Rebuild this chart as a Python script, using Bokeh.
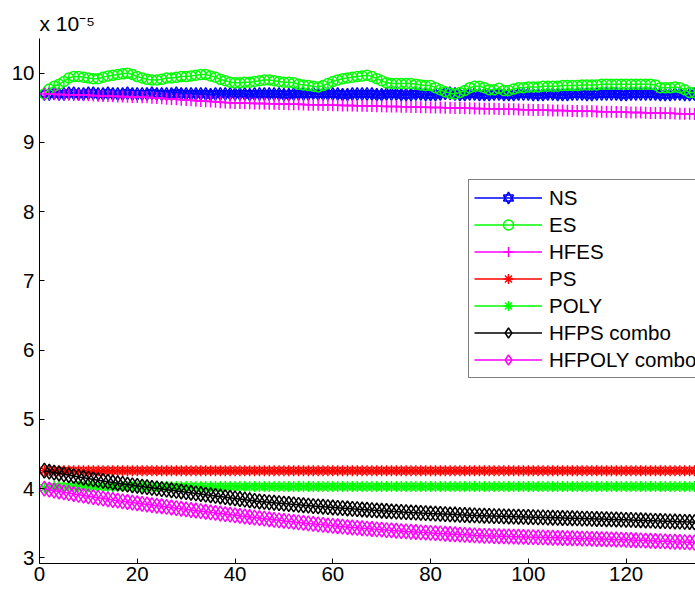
from bokeh.plotting import figure
from bokeh.models import Legend, LegendItem, FixedTicker, Range1d, Title
from bokeh.embed import file_html
from bokeh.resources import INLINE

# ---------------- data (values in units of 1e-5) ----------------
x = list(range(1, 136))

ns = [9.70, 9.70, 9.71, 9.70, 9.70, 9.71, 9.71, 9.70, 9.70, 9.71,
      9.71, 9.70, 9.70, 9.71, 9.70, 9.70, 9.70, 9.71, 9.70, 9.70,
      9.70, 9.70, 9.71, 9.70, 9.70, 9.70, 9.70, 9.71, 9.70, 9.70,
      9.70, 9.70, 9.70, 9.70, 9.69, 9.70, 9.70, 9.70, 9.70, 9.70,
      9.70, 9.70, 9.69, 9.70, 9.70, 9.70, 9.70, 9.70, 9.70, 9.69,
      9.69, 9.70, 9.70, 9.70, 9.70, 9.71, 9.70, 9.70, 9.70, 9.70,
      9.70, 9.69, 9.69, 9.70, 9.70, 9.70, 9.70, 9.70, 9.69, 9.69,
      9.70, 9.70, 9.70, 9.69, 9.69, 9.69, 9.70, 9.70, 9.69, 9.69,
      9.69, 9.70, 9.71, 9.71, 9.70, 9.69, 9.69, 9.70, 9.70, 9.69,
      9.69, 9.69, 9.70, 9.70, 9.69, 9.69, 9.69, 9.70, 9.70, 9.70,
      9.69, 9.69, 9.69, 9.70, 9.70, 9.69, 9.69, 9.69, 9.70, 9.70,
      9.70, 9.69, 9.69, 9.70, 9.70, 9.70, 9.70, 9.70, 9.69, 9.69,
      9.70, 9.70, 9.70, 9.70, 9.70, 9.70, 9.69, 9.69, 9.69, 9.70,
      9.70, 9.69, 9.69, 9.70, 9.70]

es = [9.70, 9.77, 9.81, 9.84, 9.88, 9.93, 9.95, 9.95, 9.94, 9.93,
      9.92, 9.92, 9.94, 9.96, 9.97, 9.98, 9.99, 10.00, 9.98, 9.95,
      9.93, 9.91, 9.90, 9.90, 9.91, 9.93, 9.93, 9.94, 9.95, 9.95,
      9.96, 9.97, 9.98, 9.98, 9.96, 9.94, 9.91, 9.89, 9.87, 9.86,
      9.86, 9.87, 9.87, 9.88, 9.89, 9.90, 9.90, 9.89, 9.88, 9.87,
      9.87, 9.86, 9.84, 9.83, 9.82, 9.81, 9.80, 9.82, 9.85, 9.88,
      9.90, 9.92, 9.93, 9.94, 9.95, 9.96, 9.97, 9.95, 9.92, 9.89,
      9.86, 9.85, 9.85, 9.85, 9.85, 9.85, 9.84, 9.83, 9.82, 9.82,
      9.79, 9.76, 9.73, 9.71, 9.70, 9.72, 9.75, 9.79, 9.81, 9.81,
      9.79, 9.76, 9.76, 9.78, 9.75, 9.75, 9.77, 9.79, 9.79, 9.80,
      9.80, 9.80, 9.81, 9.81, 9.81, 9.81, 9.82, 9.82, 9.82, 9.82,
      9.83, 9.83, 9.83, 9.83, 9.84, 9.84, 9.84, 9.84, 9.84, 9.84,
      9.84, 9.84, 9.84, 9.84, 9.84, 9.83, 9.79, 9.79, 9.79, 9.80,
      9.79, 9.76, 9.72, 9.72, 9.73]

hfes = [9.700, 9.698, 9.695, 9.693, 9.690, 9.688, 9.686, 9.683, 9.681, 9.679,
        9.676, 9.674, 9.671, 9.669, 9.667, 9.664, 9.662, 9.659, 9.657, 9.655,
        9.652, 9.650, 9.645, 9.641, 9.636, 9.631, 9.627, 9.622, 9.617, 9.613,
        9.608, 9.603, 9.599, 9.594, 9.589, 9.585, 9.580, 9.575, 9.571, 9.569,
        9.568, 9.566, 9.565, 9.563, 9.561, 9.560, 9.558, 9.557, 9.555, 9.553,
        9.552, 9.550, 9.549, 9.547, 9.545, 9.544, 9.542, 9.541, 9.539, 9.537,
        9.536, 9.534, 9.533, 9.531, 9.529, 9.528, 9.526, 9.525, 9.523, 9.521,
        9.520, 9.518, 9.517, 9.515, 9.513, 9.512, 9.510, 9.509, 9.507, 9.505,
        9.504, 9.502, 9.501, 9.499, 9.497, 9.496, 9.494, 9.493, 9.491, 9.489,
        9.487, 9.486, 9.484, 9.482, 9.480, 9.478, 9.477, 9.475, 9.473, 9.471,
        9.469, 9.468, 9.466, 9.464, 9.462, 9.460, 9.459, 9.457, 9.455, 9.453,
        9.451, 9.450, 9.448, 9.446, 9.444, 9.442, 9.441, 9.439, 9.437, 9.435,
        9.433, 9.432, 9.430, 9.428, 9.426, 9.424, 9.423, 9.421, 9.419, 9.417,
        9.415, 9.414, 9.412, 9.410, 9.408]

ps = [4.26, 4.26, 4.26, 4.26, 4.26, 4.26, 4.26, 4.26, 4.26, 4.26, 4.26, 4.26, 4.26, 4.26, 4.26,
      4.26, 4.26, 4.26, 4.26, 4.26, 4.26, 4.26, 4.26, 4.26, 4.26, 4.26, 4.26, 4.26, 4.26, 4.26,
      4.26, 4.26, 4.26, 4.26, 4.26, 4.26, 4.26, 4.26, 4.26, 4.26, 4.26, 4.26, 4.26, 4.26, 4.26,
      4.26, 4.26, 4.26, 4.26, 4.26, 4.26, 4.26, 4.26, 4.26, 4.26, 4.26, 4.26, 4.26, 4.26, 4.26,
      4.26, 4.26, 4.26, 4.26, 4.26, 4.26, 4.26, 4.26, 4.26, 4.26, 4.26, 4.26, 4.26, 4.26, 4.26,
      4.26, 4.26, 4.26, 4.26, 4.26, 4.26, 4.26, 4.26, 4.26, 4.26, 4.26, 4.26, 4.26, 4.26, 4.26,
      4.26, 4.26, 4.26, 4.26, 4.26, 4.26, 4.26, 4.26, 4.26, 4.26, 4.26, 4.26, 4.26, 4.26, 4.26,
      4.26, 4.26, 4.26, 4.26, 4.26, 4.26, 4.26, 4.26, 4.26, 4.26, 4.26, 4.26, 4.26, 4.26, 4.26,
      4.26, 4.26, 4.26, 4.26, 4.26, 4.26, 4.26, 4.26, 4.26, 4.26, 4.26, 4.26, 4.26, 4.26, 4.26]

poly = [4.01, 4.02, 4.03, 4.03, 4.03, 4.03, 4.03, 4.03, 4.03, 4.03, 4.03, 4.03, 4.03, 4.03, 4.03,
        4.03, 4.03, 4.03, 4.03, 4.03, 4.03, 4.03, 4.03, 4.03, 4.03, 4.03, 4.03, 4.03, 4.03, 4.03,
        4.03, 4.03, 4.03, 4.03, 4.03, 4.03, 4.03, 4.03, 4.03, 4.03, 4.03, 4.03, 4.03, 4.03, 4.03,
        4.03, 4.03, 4.03, 4.03, 4.03, 4.03, 4.03, 4.03, 4.03, 4.03, 4.03, 4.03, 4.03, 4.03, 4.03,
        4.03, 4.03, 4.03, 4.03, 4.03, 4.03, 4.03, 4.03, 4.03, 4.03, 4.03, 4.03, 4.03, 4.03, 4.03,
        4.03, 4.03, 4.03, 4.03, 4.03, 4.03, 4.03, 4.03, 4.03, 4.03, 4.03, 4.03, 4.03, 4.03, 4.03,
        4.03, 4.03, 4.03, 4.03, 4.03, 4.03, 4.03, 4.03, 4.03, 4.03, 4.03, 4.03, 4.03, 4.03, 4.03,
        4.03, 4.03, 4.03, 4.03, 4.03, 4.03, 4.03, 4.03, 4.03, 4.03, 4.03, 4.03, 4.03, 4.03, 4.03,
        4.03, 4.03, 4.03, 4.03, 4.03, 4.03, 4.03, 4.03, 4.03, 4.03, 4.03, 4.03, 4.03, 4.03, 4.03]

hfps = [4.260, 4.246, 4.233, 4.220, 4.207, 4.194, 4.182, 4.170, 4.158, 4.146,
        4.134, 4.123, 4.112, 4.101, 4.090, 4.079, 4.069, 4.059, 4.049, 4.040,
        4.031, 4.022, 4.013, 4.004, 3.995, 3.986, 3.977, 3.968, 3.959, 3.950,
        3.941, 3.932, 3.923, 3.914, 3.905, 3.896, 3.887, 3.878, 3.869, 3.860,
        3.851, 3.842, 3.833, 3.824, 3.815, 3.809, 3.803, 3.797, 3.791, 3.785,
        3.779, 3.773, 3.767, 3.761, 3.755, 3.749, 3.744, 3.739, 3.734, 3.729,
        3.724, 3.719, 3.714, 3.709, 3.705, 3.700, 3.696, 3.691, 3.687, 3.682,
        3.678, 3.673, 3.669, 3.665, 3.661, 3.657, 3.654, 3.650, 3.647, 3.643,
        3.640, 3.636, 3.633, 3.630, 3.627, 3.623, 3.620, 3.617, 3.614, 3.611,
        3.609, 3.607, 3.605, 3.603, 3.601, 3.599, 3.597, 3.595, 3.593, 3.591,
        3.589, 3.587, 3.585, 3.583, 3.581, 3.579, 3.577, 3.575, 3.573, 3.571,
        3.569, 3.567, 3.565, 3.563, 3.561, 3.559, 3.557, 3.555, 3.553, 3.551,
        3.549, 3.546, 3.544, 3.541, 3.539, 3.536, 3.534, 3.531, 3.529, 3.526,
        3.524, 3.521, 3.519, 3.516, 3.514]

hfpoly = [4.000, 3.986, 3.973, 3.960, 3.948, 3.936, 3.924, 3.912, 3.901, 3.890,
          3.879, 3.868, 3.857, 3.847, 3.837, 3.827, 3.817, 3.808, 3.799, 3.790,
          3.781, 3.772, 3.763, 3.754, 3.746, 3.737, 3.728, 3.719, 3.711, 3.702,
          3.693, 3.685, 3.676, 3.667, 3.659, 3.650, 3.642, 3.633, 3.625, 3.616,
          3.608, 3.599, 3.591, 3.583, 3.575, 3.567, 3.559, 3.551, 3.543, 3.536,
          3.528, 3.521, 3.513, 3.506, 3.499, 3.492, 3.485, 3.478, 3.471, 3.464,
          3.458, 3.452, 3.446, 3.440, 3.435, 3.429, 3.424, 3.418, 3.413, 3.408,
          3.403, 3.398, 3.393, 3.388, 3.383, 3.379, 3.375, 3.370, 3.366, 3.362,
          3.358, 3.354, 3.350, 3.346, 3.342, 3.338, 3.334, 3.330, 3.326, 3.322,
          3.320, 3.318, 3.316, 3.314, 3.312, 3.310, 3.308, 3.306, 3.304, 3.302,
          3.300, 3.298, 3.296, 3.294, 3.292, 3.290, 3.288, 3.286, 3.284, 3.282,
          3.280, 3.278, 3.276, 3.274, 3.272, 3.270, 3.268, 3.266, 3.264, 3.262,
          3.259, 3.256, 3.254, 3.251, 3.248, 3.245, 3.243, 3.240, 3.237, 3.234,
          3.232, 3.229, 3.226, 3.223, 3.220]

x_ticks = [0, 20, 40, 60, 80, 100, 120]
y_ticks = [3, 4, 5, 6, 7, 8, 9, 10]
labels = ["NS", "ES", "HFES", "PS", "POLY", "HFPS combo", "HFPOLY combo"]
scale_text = "x 10\u207b\u2075"

FONT = "Liberation Sans"
FS = "20.5px"

title = Title(text=scale_text, align="left", offset=0, standoff=7,
              text_font=FONT, text_font_size="21px", text_font_style="normal",
              text_color="black")

# ---------------- figure ----------------
p = figure(width=695, height=593, output_backend="svg", toolbar_location=None,
           title=title,
           x_range=Range1d(0, 134.2), y_range=Range1d(2.92, 10.5),
           min_border_left=39, min_border_right=0, min_border_top=38, min_border_bottom=30)
p.grid.visible = False
p.outline_line_color = None
p.background_fill_color = "white"
p.border_fill_color = "white"

for ax in (p.xaxis[0], p.yaxis[0]):
    ax.major_tick_in = 5
    ax.major_tick_out = 0
    ax.minor_tick_in = 0
    ax.minor_tick_out = 0
    ax.axis_line_color = "black"
    ax.axis_line_width = 1
    ax.major_tick_line_color = "black"
    ax.major_label_text_font = FONT
    ax.major_label_text_font_size = FS
    ax.major_label_text_color = "black"
p.xaxis.ticker = FixedTicker(ticks=x_ticks)
p.yaxis.ticker = FixedTicker(ticks=y_ticks)
p.xaxis.major_label_standoff = 3
p.yaxis.major_label_standoff = 5

LW = 1.5


def series(y, color, markers, size):
    rs = [p.line(x, y, line_color=color, line_width=LW)]
    for m in markers:
        rs.append(p.scatter(x, y, marker=m, size=size, line_color=color,
                            fill_color=None, line_width=LW))
    return rs


specs = [
    (ns, "#0000ff", ["triangle", "inverted_triangle"], 11),
    (es, "#00ff00", ["circle"], 10),
    (hfes, "#ff00ff", ["cross"], 12),
    (ps, "#ff0000", ["asterisk"], 11),
    (poly, "#00ff00", ["asterisk"], 11),
    (hfps, "#000000", ["diamond"], 15),
    (hfpoly, "#ff00ff", ["diamond"], 15),
]

items = []
for lab, (y, c, mk, sz) in zip(labels, specs):
    items.append(LegendItem(label=lab, renderers=series(y, c, mk, sz)))

legend = Legend(items=items, location=(429, 185), margin=0,
                border_line_color="black", border_line_width=1,
                background_fill_color="white", background_fill_alpha=1,
                label_text_font=FONT, label_text_font_size=FS,
                label_text_color="black",
                glyph_width=68, glyph_height=25, label_height=25,
                spacing=2, padding=5, label_standoff=7)
p.add_layout(legend)

open("out.html", "w").write(file_html(p, INLINE))
